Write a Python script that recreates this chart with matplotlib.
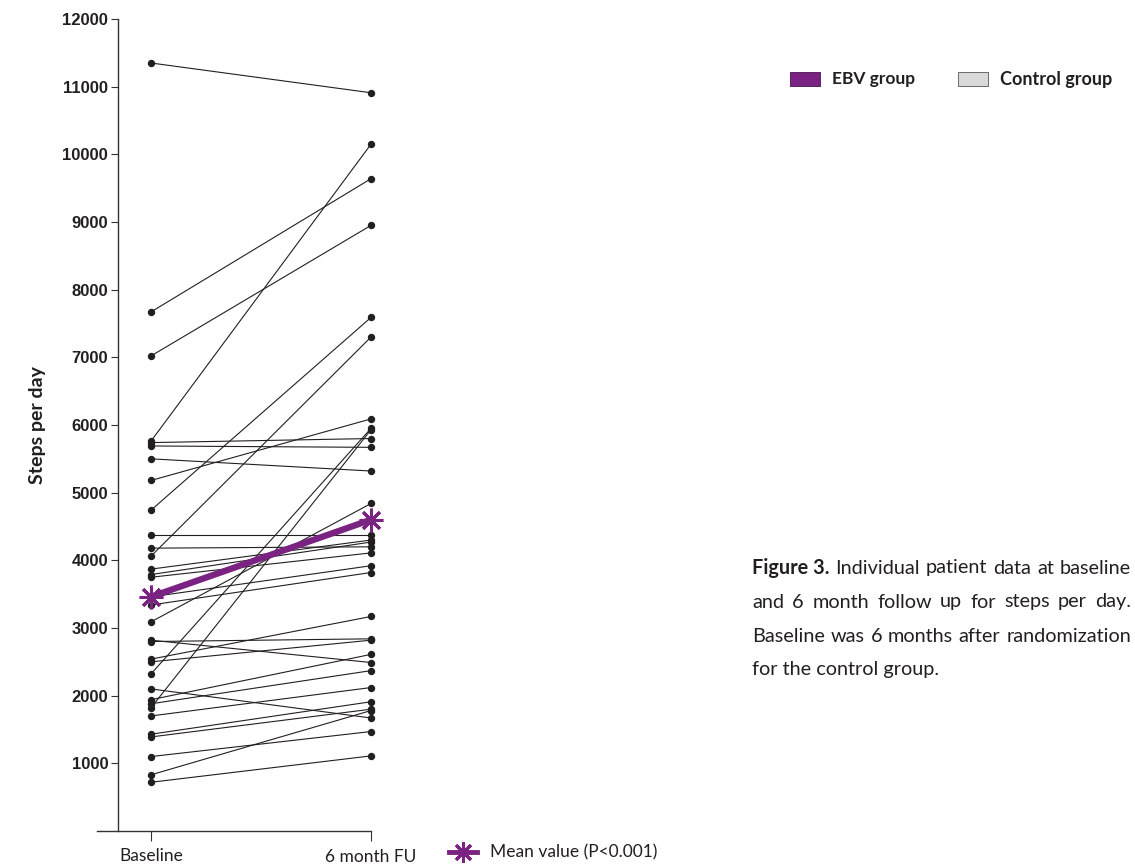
import numpy as np
import matplotlib
matplotlib.use("Agg")
import matplotlib.pyplot as plt
from matplotlib.patches import Rectangle
from matplotlib.lines import Line2D

# values (steps per day)
time_labels = ["Baseline", "6 month FU"]
baseline = [11350, 7670, 7020, 5760, 5740, 5690, 5500, 5180, 4740, 4370, 4180,
            4060, 3870, 3790, 3750, 3460, 3340, 3090, 2820, 2800, 2540, 2500,
            2320, 2100, 1940, 1880, 1820, 1700, 1430, 1390, 1100, 830, 720]
follow_up = [10910, 9640, 8950, 10150, 5800, 5670, 5320, 6090, 7590, 4370, 4200,
             7300, 4300, 4270, 4110, 3920, 3820, 4840, 2490, 2840, 3170, 2820,
             5950, 1670, 2610, 2370, 5930, 2120, 1910, 1800, 1470, 1780, 1110]
mean_values = [3460, 4600]
y_ticks = [1000, 2000, 3000, 4000, 5000, 6000, 7000, 8000, 9000, 10000, 11000, 12000]

purple = "#7b2382"
ink = "#231f20"
W, H = 1135, 867

fig = plt.figure(figsize=(W / 100, H / 100), dpi=100)
ax = fig.add_axes([97 / W, 36 / H, 274 / W, 812 / H])

x = [0, 1]
for b, f in zip(baseline, follow_up):
    ax.plot(x, [b, f], color=ink, lw=0.8, marker="o", ms=4.3, mfc=ink, mec=ink,
            clip_on=False, zorder=2)

ax.plot(x, mean_values, color=purple, lw=4.6, solid_capstyle="butt", zorder=3, clip_on=False)
ax.plot(x, mean_values, ls="none", marker=(8, 2, 0), ms=17, mew=2.2, color=purple,
        clip_on=False, zorder=4)

ax.set_xlim(-0.245, 1.0)
ax.set_ylim(0, 12000)
for s in ["top", "right"]:
    ax.spines[s].set_visible(False)
ax.spines["left"].set_position(("data", -0.15))
ax.spines["left"].set_bounds(0, 12000)
for s in ["left", "bottom"]:
    ax.spines[s].set_color("#333333")
    ax.spines[s].set_linewidth(1.0)

ax.set_yticks(y_ticks)
ax.set_yticklabels([str(v) for v in y_ticks], fontfamily="Liberation Sans",
                   fontweight="bold", fontsize=12, color="#231f20")
ax.tick_params(axis="y", direction="out", length=5, width=0.8, pad=2, color="#333333")
ax.set_xticks(x)
ax.set_xticklabels(time_labels, fontfamily="Lato", fontsize=12.5, color="#231f20")
ax.tick_params(axis="x", direction="out", length=7, width=0.8, pad=5, color="#333333")
ax.get_xticklabels()[1].set_y(-0.002)
ax.set_ylabel("Steps per day", fontfamily="Lato", fontweight="bold", fontsize=14,
              color="#231f20", labelpad=12)

# top legend
fig.patches.append(Rectangle((790 / W, 1 - 86 / H), 30 / W, 14 / H, transform=fig.transFigure,
                             facecolor=purple, edgecolor="#4a1450", lw=0.6))
fig.text(832 / W, 1 - 79 / H, "EBV group", fontfamily="Lato", fontweight="bold",
         fontsize=12.5, va="center", color="#231f20")
fig.patches.append(Rectangle((958 / W, 1 - 86 / H), 30 / W, 14 / H, transform=fig.transFigure,
                             facecolor="#d9d9d9", edgecolor="#555555", lw=0.6))
fig.text(1000 / W, 1 - 79 / H, "Control group", fontfamily="Lato", fontweight="bold",
         fontsize=13, va="center", color="#231f20")

# bottom legend for the mean
fig.lines.append(Line2D([449 / W, 477 / W], [1 - 852 / H, 1 - 852 / H], transform=fig.transFigure,
                        color=purple, lw=3.5))
fig.lines.append(Line2D([463 / W], [1 - 852 / H], transform=fig.transFigure, color=purple,
                        marker=(8, 2, 0), ms=15, mew=2.2, ls="none"))
fig.text(490 / W, 1 - 852 / H, "Mean value (P<0.001)", fontfamily="Lato", fontsize=12.5,
         va="center", color="#231f20")

# justified caption
caption = [
    [("Figure 3.", "bold"), ("Individual", "normal"), ("patient", "normal"), ("data", "normal"),
     ("at", "normal"), ("baseline", "normal")],
    [("and", "normal"), ("6", "normal"), ("month", "normal"), ("follow", "normal"), ("up", "normal"),
     ("for", "normal"), ("steps", "normal"), ("per", "normal"), ("day.", "normal")],
    [("Baseline", "normal"), ("was", "normal"), ("6", "normal"), ("months", "normal"),
     ("after", "normal"), ("randomization", "normal")],
    [("for the control group.", "normal")],
]
x_left, x_right = 752, 1131
renderer = fig.canvas.get_renderer()
for i, line in enumerate(caption):
    y = 1 - (568 + 34 * i) / H
    words = [fig.text(0, y, w, fontfamily="Lato", fontweight=fw, fontsize=14.3,
                      va="center", color="#231f20") for w, fw in line]
    widths = [t.get_window_extent(renderer).width for t in words]
    if len(words) > 1:
        gap = (x_right - x_left - sum(widths)) / (len(words) - 1)
    else:
        gap = 0
    xp = x_left
    for t, w in zip(words, widths):
        t.set_x(xp / W)
        xp += w + gap

fig.savefig("out.png", dpi=100)
